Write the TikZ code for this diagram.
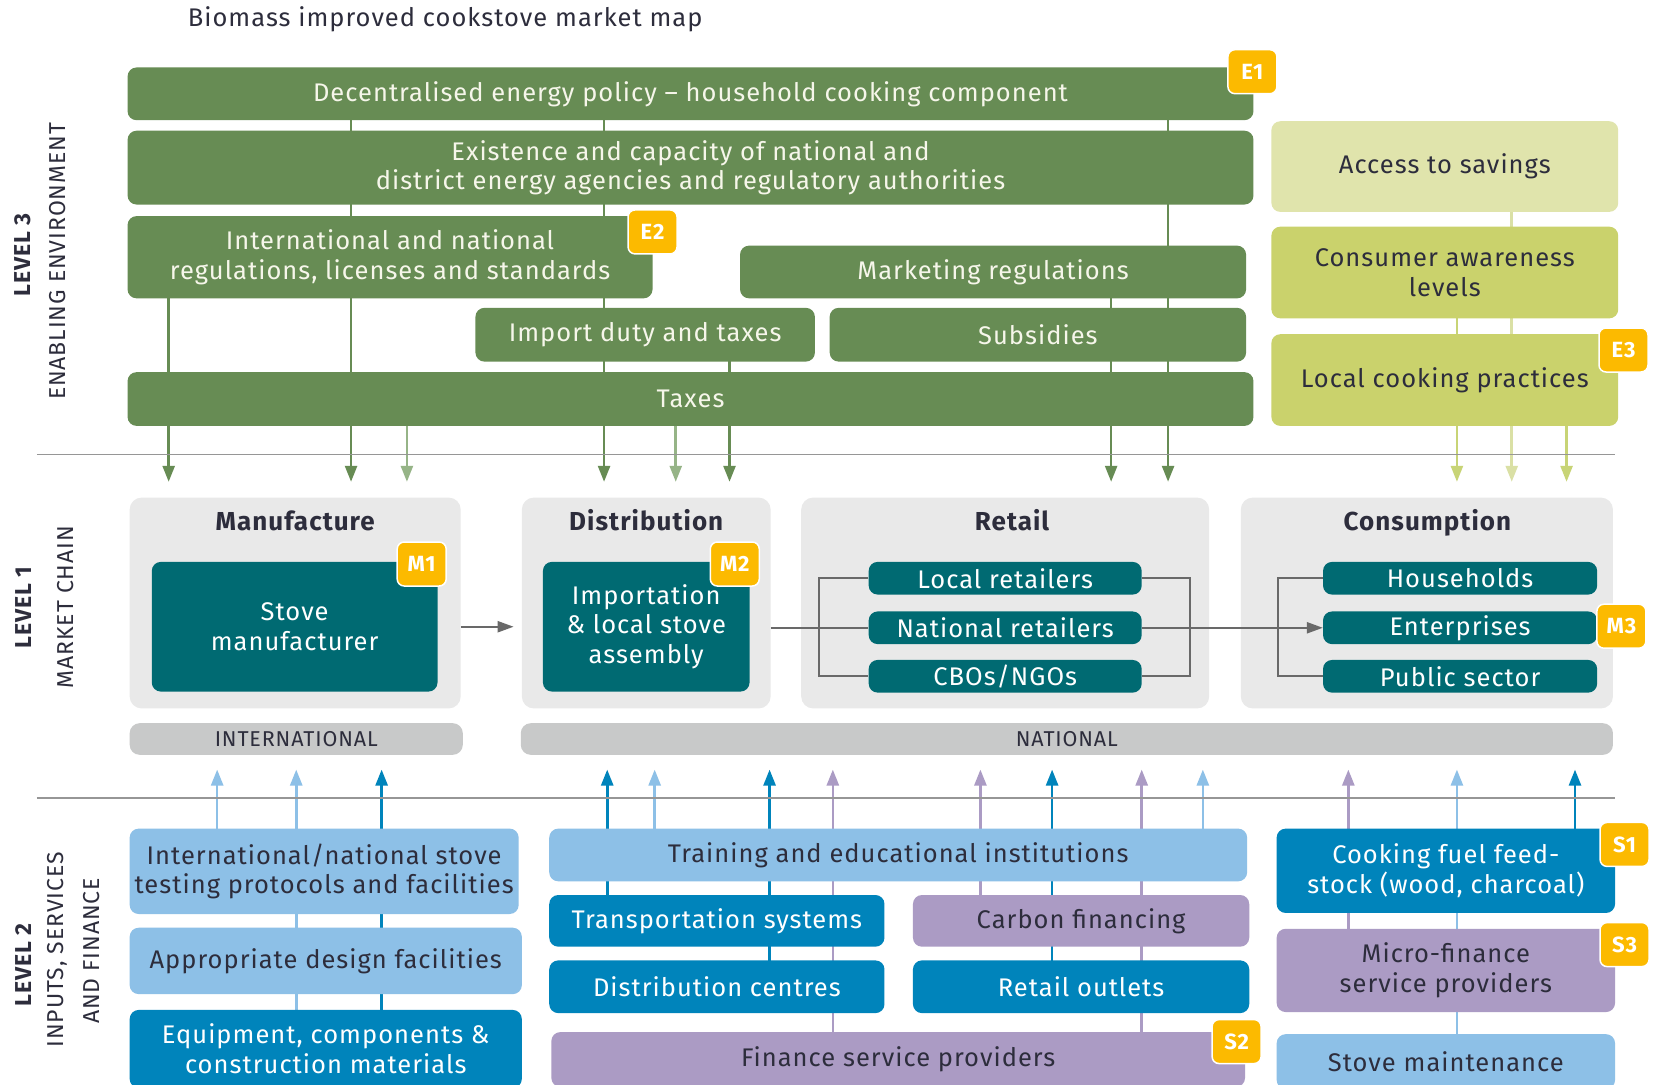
\documentclass[tikz,border=0pt]{standalone}
\usepackage{fontspec}
\setmainfont{Fira Sans}[LetterSpace=4]
\usetikzlibrary{arrows.meta,backgrounds}
\pgfdeclarelayer{paper}
\pgfsetlayers{paper,background,main}
\definecolor{cgreen}{RGB}{103,140,84}
\definecolor{cglight}{RGB}{150,180,135}
\definecolor{cgtext}{RGB}{246,246,234}
\definecolor{cpale}{RGB}{224,228,172}
\definecolor{colive}{RGB}{202,210,108}
\definecolor{colarrow}{RGB}{200,212,118}
\definecolor{cpalearrow}{RGB}{218,224,165}
\definecolor{cteal}{RGB}{0,106,114}
\definecolor{cpanel}{RGB}{233,233,233}
\definecolor{cbar}{RGB}{200,201,201}
\definecolor{clblue}{RGB}{141,192,231}
\definecolor{cblue}{RGB}{0,132,187}
\definecolor{cpurple}{RGB}{171,155,196}
\definecolor{corange}{RGB}{252,186,0}
\definecolor{ctext}{RGB}{45,45,60}
\definecolor{csep}{RGB}{150,150,150}
\definecolor{cconn}{RGB}{105,105,105}
\newcommand\mybox[7]{\node[#2, minimum width={(#5-#3)*1.0542pt}, minimum height={(#6-#4)*1.0542pt}] (#1) at ({(#3+#5)/2},{(#4+#6)/2}) {#7};}
\begin{document}
\begin{tikzpicture}[x=1.0542pt,y=-1.0542pt,
  box/.style={rounded corners=9pt, inner sep=0pt, align=center, font=\fontsize{25.5}{29.5}\selectfont},
  gbox/.style={box, fill=cgreen, text=cgtext},
  pbox/.style={box, fill=cpale, text=ctext},
  obox/.style={box, fill=colive, text=ctext},
  tbox/.style={box, fill=cteal, text=white},
  lbbox/.style={box, fill=clblue, text=ctext},
  bbox/.style={box, fill=cblue, text=white},
  ubox/.style={box, fill=cpurple, text=ctext},
  panel/.style={rounded corners=12pt, fill=cpanel, inner sep=0pt},
  ptitle/.style={font=\bfseries\fontsize{26}{30}\selectfont, text=ctext, inner sep=0pt, anchor=base},
  bar/.style={rounded corners=10pt, fill=cbar, inner sep=0pt, text=ctext, font=\fontsize{21.5}{22}\selectfont},
  badge/.style={fill=corange, draw=white, line width=1.5pt, rounded corners=7pt, text=white,
    font=\bfseries\fontsize{22}{22}\selectfont, minimum width=49pt, minimum height=44pt, inner sep=0pt},
  vline/.style={line width=2.6pt, -{Triangle[width=12pt,length=16pt]}},
  conn/.style={line width=2.2pt, draw=cconn},
  ctip/.style={-{Triangle[width=11pt,length=16pt]}},
  sepline/.style={line width=1.6pt, draw=csep},
  lvl/.style={rotate=90, font=\bfseries\fontsize{23}{26}\selectfont, text=ctext, inner sep=0pt},
  lvlsub/.style={rotate=90, font=\fontsize{23}{26}\selectfont, text=ctext, inner sep=0pt}
]
\clip (0,0) rectangle (1568,1029);
\begin{pgfonlayer}{paper}
\fill[white] (0,0) rectangle (1568,1029);
\end{pgfonlayer}

\node[anchor=west, inner sep=0pt, text=ctext, font=\fontsize{25.5}{28}\selectfont] (title) at (178,18) {Biomass improved cookstove market map};

% level labels
\node[lvl] (l3a) at (22,242) {LEVEL 3};
\node[lvlsub] (l3b) at (55,248) {ENABLING ENVIRONMENT};
\node[lvl] (l1a) at (22,576) {LEVEL 1};
\node[lvlsub] (l1b) at (62,576) {MARKET CHAIN};
\node[lvl] (l2a) at (22,915) {LEVEL 2};
\node[lvlsub] (l2b) at (54,901) {INPUTS, SERVICES};
\node[lvlsub] (l2c) at (87,902) {AND FINANCE};

% separators
\draw[sepline] (35,431) -- (1532,431);
\draw[sepline] (35,757) -- (1532,757);

% level 3
\mybox{dec}{gbox}{121}{64}{1189}{114}{Decentralised energy policy -- household cooking component}
\mybox{exi}{gbox}{121}{124}{1189}{194}{Existence and capacity of national and\\district energy agencies and regulatory authorities}
\mybox{intl}{gbox}{121}{205}{619}{283}{International and national\\regulations, licenses and standards}
\mybox{mkt}{gbox}{702}{233}{1182}{283}{Marketing regulations}
\mybox{impd}{gbox}{451}{292}{773}{343}{Import duty and taxes}
\mybox{subs}{gbox}{787}{292}{1182}{343}{Subsidies}
\mybox{taxes}{gbox}{121}{353}{1189}{404}{Taxes}
\mybox{acc}{pbox}{1206}{115}{1535}{201}{Access to savings}
\mybox{cons}{obox}{1206}{215}{1535}{302}{Consumer awareness\\levels}
\mybox{loc}{obox}{1206}{317}{1535}{404}{Local cooking practices}

% level 1
\mybox{manp}{panel}{123}{472}{437}{672}{}
\mybox{distp}{panel}{495}{472}{731}{672}{}
\mybox{retp}{panel}{760}{472}{1147}{672}{}
\mybox{conp}{panel}{1177}{472}{1530}{672}{}
\node[ptitle] (mant) at (280,503.5) {Manufacture};
\node[ptitle] (distt) at (613,503.5) {Distribution};
\node[ptitle] (rett) at (960,503.5) {Retail};
\node[ptitle] (cont) at (1354,503.5) {Consumption};
\mybox{stove}{tbox}{144}{533}{415}{656}{Stove\\manufacturer}
\mybox{imp}{tbox}{515}{533}{711}{656}{Importation\\\& local stove\\assembly}
\mybox{locr}{tbox}{824}{533}{1083}{564}{Local retailers}
\mybox{natr}{tbox}{824}{580}{1083}{611}{National retailers}
\mybox{cbo}{tbox}{824}{626}{1083}{657}{CBOs/NGOs}
\mybox{hh}{tbox}{1255}{533}{1515}{564}{Households}
\mybox{ent}{tbox}{1255}{580}{1515}{611}{Enterprises}
\mybox{pub}{tbox}{1255}{626}{1515}{657}{Public sector}
\mybox{intb}{bar}{123}{686}{439}{716}{INTERNATIONAL}
\mybox{natb}{bar}{494}{686}{1530}{716}{NATIONAL}

% level 2
\mybox{test}{lbbox}{123}{786}{492}{867}{International/national stove\\testing protocols and facilities}
\mybox{design}{lbbox}{123}{880}{495}{943}{Appropriate design facilities}
\mybox{equip}{bbox}{123}{958}{495}{1032}{Equipment, components \&\\construction materials}
\mybox{train}{lbbox}{521}{786}{1183}{836}{Training and educational institutions}
\mybox{transp}{bbox}{521}{849}{839}{898}{Transportation systems}
\mybox{carbon}{ubox}{866}{849}{1185}{898}{Carbon financing}
\mybox{distc}{bbox}{521}{911}{839}{961}{Distribution centres}
\mybox{retout}{bbox}{866}{911}{1185}{961}{Retail outlets}
\mybox{fin}{ubox}{523}{979}{1181}{1031}{Finance service providers}
\mybox{cook}{bbox}{1211}{786}{1532}{866}{Cooking fuel feed-\\stock (wood, charcoal)}
\mybox{micro}{ubox}{1211}{881}{1532}{960}{Micro-finance\\service providers}
\mybox{stovem}{lbbox}{1211}{981}{1532}{1033}{Stove maintenance}

% badges
\node[badge] (e1) at (1188,68) {E1};
\node[badge] (e2) at (619,220) {E2};
\node[badge] (e3) at (1540,332) {E3};
\node[badge] (m1) at (400,535) {M1};
\node[badge] (m2) at (697,535) {M2};
\node[badge] (m3) at (1538,594) {M3};
\node[badge] (s1) at (1541,801) {S1};
\node[badge] (s2) at (1173,988) {S2};
\node[badge] (s3) at (1541,896) {S3};

% level 1 connectors
\coordinate (lbx) at (777,596);
\coordinate (rbx) at (1129,596);
\coordinate (cbx) at (1212,596);
\coordinate (arrend) at ([xshift=-8pt]distp.west);
\draw[conn, ctip] (manp.east |- stove.east) -- (arrend |- stove.east);
\draw[conn] (distp.east |- natr.west) -- (natr.west);
\draw[conn] (locr.west) -| (lbx) |- (cbo.west);
\draw[conn] (locr.east) -| (rbx) |- (cbo.east);
\draw[conn, ctip] (natr.east) -- (ent.west);
\draw[conn] (hh.west) -| (cbx) |- (pub.west);

% vertical connectors behind boxes
\begin{pgfonlayer}{background}
\foreach \x/\n/\c in {160/intl/cgreen, 333/dec/cgreen, 386/taxes/cglight, 573/dec/cgreen, 641/taxes/cglight, 692/impd/cgreen, 1054/mkt/cgreen, 1108/dec/cgreen, 1382/cons/colarrow, 1434/acc/cpalearrow, 1486/loc/colarrow}{
  \coordinate (t\x) at (\x,457);
  \draw[vline, color=\c] (\n.center -| t\x) -- (t\x);
}
\foreach \x/\n/\c in {206/test/clblue, 281/equip/clblue, 362/equip/cblue, 576/transp/cblue, 621/train/clblue, 730/distc/cblue, 790/fin/cpurple, 930/carbon/cpurple, 998/retout/cblue, 1083/fin/cpurple, 1141/train/clblue, 1279/micro/cpurple, 1382/stovem/clblue, 1494/cook/cblue}{
  \coordinate (u\x) at (\x,730);
  \draw[vline, color=\c] (\n.center -| u\x) -- (u\x);
}
\end{pgfonlayer}
\end{tikzpicture}
\end{document}
